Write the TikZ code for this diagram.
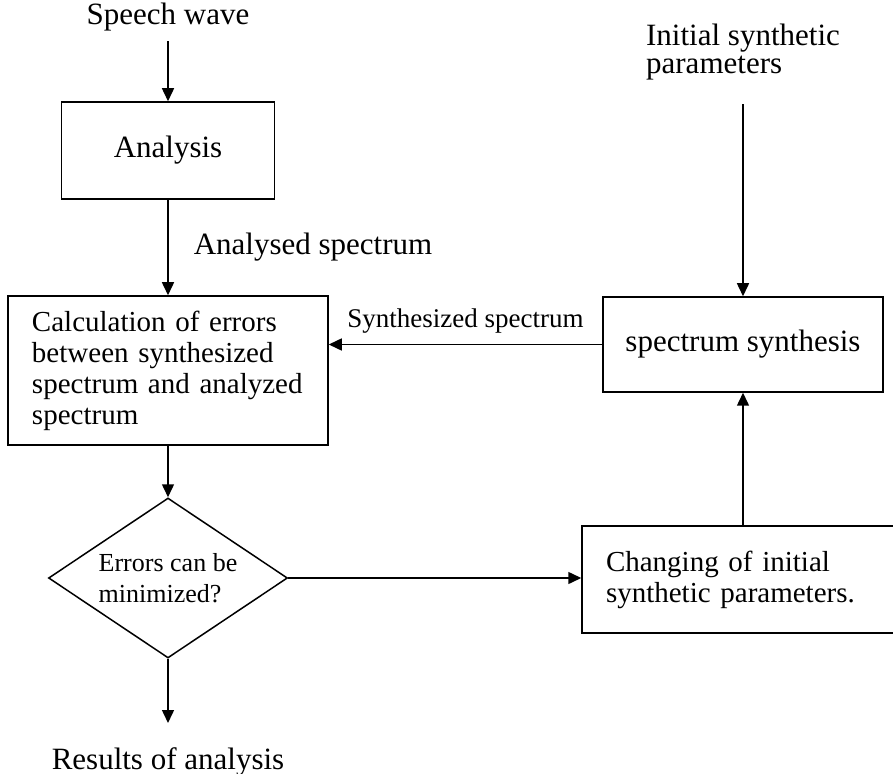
\documentclass[tikz,border=0pt]{standalone}
\usepackage{fontspec}
\setmainfont{Liberation Serif}
\usepackage{tikz}
\usetikzlibrary{arrows.meta}
\usetikzlibrary{shapes.geometric}
\usetikzlibrary{positioning}
\newcommand{\bigfnt}{\fontsize{15.5}{15.5}\selectfont}
\newcommand{\midfnt}{\fontsize{14.5}{15.5}\selectfont}
\newcommand{\smlfnt}{\fontsize{13.5}{15.5}\selectfont}
\tikzset{
	block/.style={draw=black, line width=.75pt, rectangle, font=\bigfnt},
	process/.style={draw=black, line width=.75pt, rectangle, align=left,
		inner xsep=12pt, font=\midfnt},
	decision/.style={draw=black, line width=.75pt, diamond, aspect=1.5,
		inner sep=0pt, align=left, font=\fontsize{13}{15.5}\selectfont},
	signal/.style={inner sep=0pt, font=\bigfnt},
	flow/.style={draw=black, line width=.75pt, -{Triangle[length=6.5pt,width=6pt]}},
}

\begin{document}
\begin{tikzpicture}[x=0.5pt,y=-0.5pt]
	\useasboundingbox (0,0) rectangle (893,774);
	% left column
	\node[signal] (speech) at (168,17) {Speech wave};
	\node[block, minimum width=106.5pt, minimum height=48.5pt] (ana) at (168,150.5) {Analysis};
	\node[process, text width=136pt, minimum height=74.5pt] (calc) at (168,370.5)
		{Calculation of errors\\between synthesized\\spectrum and analyzed\\spectrum};
	\node[decision, minimum width=119.5pt, minimum height=80pt] (dec) at (168,578)
		{Errors can be\\minimized?};
	\node[signal, anchor=north, inner ysep=12pt] (res) at (168,723) {Results of analysis};
	% right column
	\node[signal, align=left, font=\fontsize{15.5}{14}\selectfont] (init) at (743,52)
		{Initial synthetic\\parameters};
	\node[block, minimum width=140pt, minimum height=47.5pt] (synth) at (743,344.5) {spectrum synthesis};
	\node[process, text width=137pt, minimum height=53.5pt] (change) at (743,579.5)
		{Changing of initial\\synthetic parameters.};
	%
	\draw[flow, shorten <=5pt] (speech) -- (ana);
	\draw[flow] (ana.south) -- (calc.north)
		node[signal, midway, right=12.5pt] {Analysed spectrum};
	\draw[flow] (calc.south) -- (dec.north);
	\draw[flow] (dec.south) -- (res.north);
	\draw[flow, shorten <=12pt] (init) -- (synth);
	\draw[flow] (synth.west) -- (synth.west -| calc.east)
		node[signal, midway, above=5pt, font=\smlfnt] {Synthesized spectrum};
	\draw[flow] (dec.east) -- (dec.east -| change.west);
	\draw[flow] (change.north) -- (synth.south);
\end{tikzpicture}
\end{document}
